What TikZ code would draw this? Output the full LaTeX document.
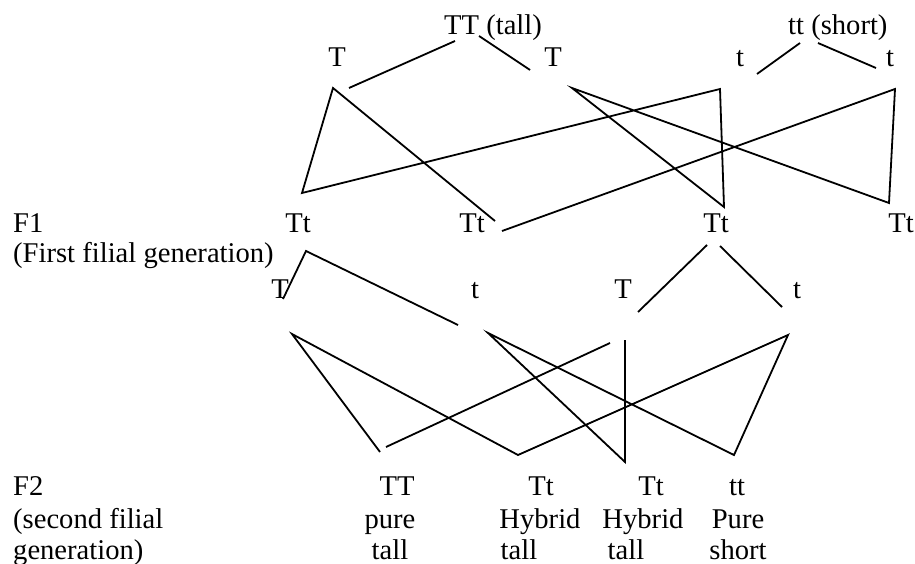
\documentclass[tikz,border=0pt]{standalone}
\usepackage{fontspec}
\setmainfont{Liberation Serif}
\begin{document}
\begin{tikzpicture}[x=1pt,y=-1pt,
  lbl/.style={inner sep=0pt, anchor=base, font=\fontsize{28.6}{32}\selectfont},
  lblw/.style={lbl, anchor=base west},
  ln/.style={line width=1.8pt, black}]
\useasboundingbox (0,0) rectangle (915,564);
% parents
\node[lblw] (ptall) at (444,35) {TT (tall)};
\node[lblw] (pshort) at (788,35) {tt (short)};
\node[lbl] (gT1) at (337,67) {T};
\node[lbl] (gT2) at (553,67) {T};
\node[lbl] (gt1) at (740,67) {t};
\node[lbl] (gt2) at (890,67) {t};
% F1
\node[lblw] (fone) at (13,232) {F1};
\node[lblw] (fonetxt) at (13,262) {(First filial generation)};
\node[lbl] (cA) at (298,232) {Tt};
\node[lbl] (cB) at (472,232) {Tt};
\node[lbl] (cC) at (716,232) {Tt};
\node[lbl] (cD) at (901,232) {Tt};
% F1 gametes
\node[lbl] (hT1) at (280,298) {T};
\node[lbl] (ht1) at (475,298) {t};
\node[lbl] (hT2) at (623,298) {T};
\node[lbl] (ht2) at (797,298) {t};
% F2
\node[lblw] (ftwo) at (13,495) {F2};
\node[lblw] (ftwob) at (13,528) {(second filial};
\node[lblw] (ftwoc) at (13,559) {generation)};
\node[lbl] (kA1) at (397,495) {TT};
\node[lbl] (kA2) at (390,528) {pure};
\node[lbl] (kA3) at (390,559) {tall};
\node[lbl] (kB1) at (541,495) {Tt};
\node[lbl] (kB2) at (540,528) {Hybrid};
\node[lbl] (kB3) at (519,559) {tall};
\node[lbl] (kC1) at (651,495) {Tt};
\node[lbl] (kC2) at (643,528) {Hybrid};
\node[lbl] (kC3) at (626,559) {tall};
\node[lbl] (kD1) at (737,495) {tt};
\node[lbl] (kD2) at (738,528) {Pure};
\node[lbl] (kD3) at (738,559) {short};
% coordinates: parents to gametes
\coordinate (a1) at (455,41);  \coordinate (a2) at (349,88);
\coordinate (b1) at (479,36);  \coordinate (b2) at (530,70);
\coordinate (c1) at (800,43);  \coordinate (c2) at (757,74);
\coordinate (d1) at (818,43);  \coordinate (d2) at (876,68);
% gametes to F1
\coordinate (A) at (333,88);
\coordinate (B) at (720,89);
\coordinate (C) at (572,88);
\coordinate (D) at (895,89);
\coordinate (J1) at (302,193);
\coordinate (J3) at (724,207);
\coordinate (J4) at (889,203);
\coordinate (eA) at (495,221);
\coordinate (eD) at (502,231);
% F1 to gametes
\coordinate (E) at (306,251);
\coordinate (E1) at (283,299);
\coordinate (E2) at (458,325);
\coordinate (m1) at (707,245); \coordinate (m2) at (638,312);
\coordinate (n1) at (720,246); \coordinate (n2) at (782,307);
% gametes to F2
\coordinate (F) at (292,334);
\coordinate (G) at (488,333);
\coordinate (K1) at (380,452);
\coordinate (K2) at (518,455);
\coordinate (K3) at (625,462);
\coordinate (K4) at (734,455);
\coordinate (V) at (625,340);
\coordinate (q1) at (386,447); \coordinate (q2) at (610,343);
\coordinate (R) at (788,335);
% lines
\draw[ln] (a1) -- (a2);
\draw[ln] (b1) -- (b2);
\draw[ln] (c1) -- (c2);
\draw[ln] (d1) -- (d2);
\draw[ln] (eA) -- (A) -- (J1) -- (B) -- (J3) -- (C) -- (J4) -- (D) -- (eD);
\draw[ln] (E1) -- (E) -- (E2);
\draw[ln] (m1) -- (m2);
\draw[ln] (n1) -- (n2);
\draw[ln] (K1) -- (F) -- (K2) -- (R) -- (K4) -- (G) -- (K3) -- (V);
\draw[ln] (q1) -- (q2);
\end{tikzpicture}
\end{document}
